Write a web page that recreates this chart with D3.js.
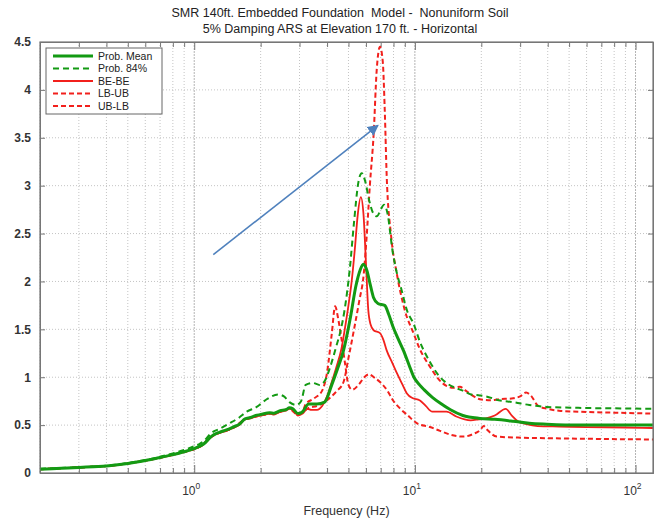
<!DOCTYPE html>
<html>
<head>
<meta charset="utf-8">
<script src="https://cdn.jsdelivr.net/npm/d3@7"></script>
<style>
  body { margin: 0; background: #fff; }
  svg { display: block; font-family: "Liberation Sans", Arial, sans-serif; }
  .grid line { stroke: #c4c4c4; stroke-dasharray: 1,2; }
  .grid .major { stroke: #b4b4b4; stroke-dasharray: 2,1; }
  .axis path, .axis line { stroke: #777; }
  .axis text { fill: #333; font-size: 12px; font-weight: bold; }
</style>
</head>
<body>
<div id="chart"></div>
<script>
// data (frequency Hz, spectral acceleration g)
var titleLines = [
    "SMR 140ft. Embedded Foundation  Model -  Nonuniform Soil",
    "5% Damping ARS at Elevation 170 ft. - Horizontal"
];
var yTicks = [0, 0.5, 1, 1.5, 2, 2.5, 3, 3.5, 4, 4.5];
var xDecades = [1, 10, 100];
var xDecadeLabels = ["0", "1", "2"];

var probMean = [[0.2,0.04],[0.25,0.05],[0.3,0.058],[0.35,0.066],[0.4,0.072],[0.45,0.085],[0.5,0.1],[0.55,0.115],[0.6,0.13],[0.7,0.162],[0.8,0.192],[0.9,0.222],[1.0,0.255],[1.05,0.275],[1.1,0.3],[1.2,0.385],[1.3,0.425],[1.4,0.45],[1.5,0.48],[1.6,0.51],[1.7,0.565],[1.8,0.58],[1.9,0.6],[2.0,0.61],[2.2,0.63],[2.3,0.625],[2.45,0.65],[2.6,0.66],[2.7,0.68],[2.8,0.67],[2.95,0.62],[3.1,0.64],[3.3,0.72],[3.6,0.72],[3.9,0.74],[4.2,0.92],[4.45,1.08],[4.75,1.28],[5.1,1.62],[5.4,1.95],[5.65,2.12],[5.84,2.18],[6.05,2.12],[6.3,1.95],[6.5,1.83],[6.8,1.77],[7.3,1.75],[7.6,1.66],[7.95,1.53],[8.4,1.4],[8.87,1.28],[9.4,1.13],[9.9,1.0],[10.5,0.92],[11.0,0.87],[12,0.79],[13,0.73],[14.5,0.66],[16.5,0.6],[19.7,0.57],[23,0.56],[27.9,0.54],[33,0.52],[39.6,0.51],[55,0.5],[80,0.5],[120,0.5]];

var prob84 = [[0.2,0.045],[0.25,0.052],[0.3,0.06],[0.35,0.068],[0.4,0.075],[0.45,0.088],[0.5,0.105],[0.55,0.12],[0.6,0.135],[0.7,0.17],[0.8,0.205],[0.9,0.24],[1.0,0.28],[1.05,0.3],[1.1,0.33],[1.2,0.42],[1.3,0.46],[1.45,0.52],[1.6,0.58],[1.73,0.64],[1.92,0.69],[2.13,0.77],[2.4,0.82],[2.55,0.8],[2.7,0.74],[2.9,0.71],[3.05,0.75],[3.2,0.92],[3.45,0.94],[3.7,0.92],[3.9,0.96],[4.15,1.12],[4.4,1.32],[4.6,1.48],[4.8,1.7],[5.08,2.15],[5.3,2.62],[5.55,3.04],[5.74,3.13],[5.95,3.05],[6.2,2.85],[6.45,2.72],[6.72,2.68],[7.0,2.75],[7.25,2.8],[7.5,2.72],[7.93,2.31],[8.3,2.08],[8.66,1.93],[9.2,1.7],[9.9,1.55],[10.5,1.38],[11.7,1.16],[12.8,1.02],[13.9,0.94],[15.2,0.89],[16.5,0.86],[18,0.82],[19.7,0.81],[21,0.8],[24,0.76],[27.9,0.74],[33,0.71],[39.6,0.69],[55,0.68],[80,0.675],[120,0.67]];

var beBe = [[0.2,0.04],[0.25,0.05],[0.3,0.058],[0.35,0.066],[0.4,0.072],[0.45,0.085],[0.5,0.1],[0.55,0.115],[0.6,0.13],[0.7,0.16],[0.8,0.19],[0.9,0.22],[1.0,0.25],[1.05,0.27],[1.1,0.3],[1.15,0.35],[1.2,0.38],[1.3,0.42],[1.4,0.44],[1.5,0.47],[1.6,0.5],[1.7,0.56],[1.8,0.57],[1.9,0.59],[2.0,0.6],[2.1,0.61],[2.2,0.62],[2.3,0.61],[2.45,0.64],[2.6,0.65],[2.7,0.67],[2.8,0.66],[2.95,0.6],[3.1,0.62],[3.25,0.67],[3.4,0.66],[3.6,0.66],[3.8,0.7],[4.0,0.8],[4.2,0.95],[4.4,1.1],[4.65,1.3],[4.85,1.55],[5.0,1.75],[5.17,2.0],[5.35,2.35],[5.5,2.68],[5.69,2.88],[5.85,2.7],[6.0,2.2],[6.15,1.7],[6.3,1.55],[6.5,1.49],[6.95,1.46],[7.2,1.39],[7.45,1.28],[7.9,1.15],[8.3,1.04],[8.8,0.92],[9.2,0.83],[9.8,0.78],[10.5,0.76],[11.2,0.7],[12,0.64],[13.9,0.64],[15.4,0.59],[17.9,0.55],[19.5,0.56],[21,0.57],[23,0.6],[25.8,0.67],[27.5,0.6],[29.3,0.54],[32,0.51],[36,0.49],[45,0.485],[60,0.48],[90,0.475],[120,0.47]];

var lbUb = [[0.2,0.04],[0.25,0.05],[0.3,0.058],[0.35,0.066],[0.4,0.072],[0.45,0.085],[0.5,0.1],[0.55,0.115],[0.6,0.13],[0.7,0.16],[0.8,0.19],[0.9,0.22],[1.0,0.25],[1.05,0.27],[1.1,0.3],[1.2,0.38],[1.3,0.42],[1.5,0.47],[1.7,0.56],[1.9,0.59],[2.2,0.62],[2.45,0.64],[2.7,0.67],[2.95,0.61],[3.1,0.63],[3.3,0.68],[3.6,0.7],[4.0,0.76],[4.4,0.85],[4.75,0.95],[5.0,1.2],[5.3,1.5],[5.6,1.8],[5.86,2.07],[6.05,2.48],[6.25,3.0],[6.5,3.53],[6.72,4.22],[6.95,4.45],[7.15,4.3],[7.3,3.8],[7.45,3.11],[7.8,2.48],[8.3,2.07],[9.0,1.7],[9.9,1.45],[10.5,1.3],[11.7,1.11],[12.8,0.98],[13.9,0.91],[15,0.89],[16,0.9],[17,0.86],[18.5,0.8],[19.7,0.77],[22,0.76],[24,0.77],[27.9,0.78],[30,0.8],[31.9,0.84],[33.5,0.81],[36.2,0.7],[40,0.67],[45,0.65],[55,0.64],[80,0.63],[120,0.62]];

var ubLb = [[0.2,0.04],[0.25,0.05],[0.3,0.058],[0.35,0.066],[0.4,0.072],[0.45,0.085],[0.5,0.1],[0.55,0.115],[0.6,0.13],[0.7,0.16],[0.8,0.19],[0.9,0.22],[1.0,0.25],[1.05,0.27],[1.1,0.3],[1.2,0.38],[1.3,0.42],[1.5,0.47],[1.7,0.56],[1.9,0.59],[2.2,0.62],[2.45,0.64],[2.7,0.67],[2.95,0.61],[3.1,0.64],[3.2,0.72],[3.5,0.78],[3.8,0.86],[4.0,1.05],[4.2,1.45],[4.35,1.74],[4.5,1.6],[4.65,1.4],[4.8,1.18],[5.0,0.92],[5.2,0.87],[5.6,0.93],[5.9,1.0],[6.2,1.03],[6.6,0.99],[6.95,0.95],[7.5,0.86],[7.95,0.76],[8.6,0.67],[9.3,0.6],[10.2,0.52],[11.7,0.48],[13,0.44],[14.5,0.4],[16.6,0.38],[18.5,0.41],[19.8,0.45],[20.5,0.49],[21.5,0.44],[23.5,0.38],[29.3,0.37],[50,0.36],[120,0.35]];

// annotation arrow, in data units [freq, g]
var arrowFrom = [1.22, 2.28];
var arrowTo = [6.8, 3.63];

var series = [
    { name: "Prob. Mean", values: probMean, color: "#139a13", width: 3,   dash: null },
    { name: "Prob. 84%",  values: prob84,   color: "#139a13", width: 2,   dash: "6,4" },
    { name: "BE-BE",      values: beBe,     color: "#f2201c", width: 1.8, dash: null },
    { name: "LB-UB",      values: lbUb,     color: "#f2201c", width: 2,   dash: "5,3" },
    { name: "UB-LB",      values: ubLb,     color: "#f2201c", width: 2,   dash: "5,3" }
];

var margin = { top: 42, right: 17, bottom: 49, left: 40 };
var width = 670 - margin.left - margin.right;
var height = 522 - margin.top - margin.bottom;

var svg = d3.select("#chart").append("svg")
    .attr("width", 670)
    .attr("height", 522);

var g = svg.append("g")
    .attr("transform", "translate(" + margin.left + "," + margin.top + ")");

var x = d3.scaleLog().domain([0.2, 120]).range([0, width]);
var y = d3.scaleLinear().domain([0, 4.5]).range([height, 0]);

var xTickVals = x.ticks();

// grid
var grid = g.append("g").attr("class", "grid");
grid.selectAll(".vx").data(xTickVals).enter().append("line")
    .attr("class", function(d) { return xDecades.indexOf(d) >= 0 ? "vx major" : "vx"; })
    .attr("x1", function(d) { return x(d); })
    .attr("x2", function(d) { return x(d); })
    .attr("y1", 0).attr("y2", height);
grid.selectAll(".hy").data(yTicks.slice(1, -1)).enter().append("line")
    .attr("class", "hy")
    .attr("x1", 0).attr("x2", width)
    .attr("y1", function(d) { return y(d); })
    .attr("y2", function(d) { return y(d); });

// axes, MATLAB style: ticks pointing in on all four sides
var xAxis = d3.axisBottom(x).tickValues(xTickVals).tickSize(-5).tickFormat(function() { return ""; });
var xAxisTop = d3.axisTop(x).tickValues(xTickVals).tickSize(-5).tickFormat(function() { return ""; });
var yAxis = d3.axisLeft(y).tickValues(yTicks).tickSize(-5).tickPadding(9)
    .tickFormat(function(d) { return String(d); });
var yAxisRight = d3.axisRight(y).tickValues(yTicks).tickSize(-5).tickFormat(function() { return ""; });

g.append("g").attr("class", "axis").attr("transform", "translate(0," + height + ")").call(xAxis);
g.append("g").attr("class", "axis").call(xAxisTop);
g.append("g").attr("class", "axis").call(yAxis);
g.append("g").attr("class", "axis").attr("transform", "translate(" + width + ",0)").call(yAxisRight);

// longer ticks on the decades
g.selectAll(".axis .tick line").filter(function(d) { return xDecades.indexOf(d) >= 0; })
    .attr("y2", function() { return +d3.select(this).attr("y2") * 1.6; });

// decade labels 10^k
var xl = g.append("g").selectAll("text").data(xDecades).enter().append("text")
    .attr("x", function(d) { return x(d) - 3; })
    .attr("y", height + 22)
    .attr("text-anchor", "middle")
    .style("font-size", "12px")
    .style("fill", "#333");
xl.append("tspan").text("10");
xl.append("tspan")
    .attr("dy", -6)
    .style("font-size", "8.5px")
    .text(function(d, i) { return xDecadeLabels[i]; });

g.append("text")
    .attr("x", width / 2)
    .attr("y", height + 42)
    .attr("text-anchor", "middle")
    .style("font-size", "12.5px")
    .style("fill", "#333")
    .text("Frequency (Hz)");

// title
svg.selectAll(".title").data(titleLines).enter().append("text")
    .attr("class", "title")
    .attr("x", 340)
    .attr("y", function(d, i) { return 17 + i * 16; })
    .attr("text-anchor", "middle")
    .style("font-size", "12.5px")
    .style("fill", "#222")
    .attr("xml:space", "preserve")
    .text(function(d) { return d; });

// curves
var line = d3.line()
    .x(function(d) { return x(d[0]); })
    .y(function(d) { return y(d[1]); })
    .curve(d3.curveMonotoneX);

g.selectAll(".curve").data(series.slice().reverse()).enter().append("path")
    .attr("class", "curve")
    .attr("fill", "none")
    .attr("stroke", function(d) { return d.color; })
    .attr("stroke-width", function(d) { return d.width; })
    .attr("stroke-dasharray", function(d) { return d.dash; })
    .attr("stroke-linejoin", "round")
    .attr("d", function(d) { return line(d.values); });

// plot box
g.append("rect")
    .attr("width", width).attr("height", height)
    .attr("fill", "none").attr("stroke", "#777").attr("stroke-width", 1.2);

// legend
var legend = g.append("g").attr("transform", "translate(6,6)");
legend.append("rect")
    .attr("width", 116).attr("height", 66)
    .attr("fill", "#fff").attr("stroke", "#666");
var item = legend.selectAll(".item").data(series).enter().append("g")
    .attr("transform", function(d, i) { return "translate(0," + (8 + i * 12.5) + ")"; });
item.append("line")
    .attr("x1", 7).attr("x2", 47)
    .attr("stroke", function(d) { return d.color; })
    .attr("stroke-width", function(d) { return d.width; })
    .attr("stroke-dasharray", function(d) { return d.dash; });
item.append("text")
    .attr("x", 52).attr("dy", "0.35em")
    .style("font-size", "10.5px")
    .style("fill", "#222")
    .text(function(d) { return d.name; });

// arrow annotation
svg.append("defs").append("marker")
    .attr("id", "head")
    .attr("viewBox", "0 0 10 10")
    .attr("refX", 9).attr("refY", 5)
    .attr("markerWidth", 7).attr("markerHeight", 7)
    .attr("orient", "auto")
    .append("path").attr("d", "M0,0L10,5L0,10z").attr("fill", "#4f81bd");
g.append("line")
    .attr("x1", x(arrowFrom[0])).attr("y1", y(arrowFrom[1]))
    .attr("x2", x(arrowTo[0])).attr("y2", y(arrowTo[1]))
    .attr("stroke", "#4f81bd").attr("stroke-width", 1.6)
    .attr("marker-end", "url(#head)");
</script>
</body>
</html>
